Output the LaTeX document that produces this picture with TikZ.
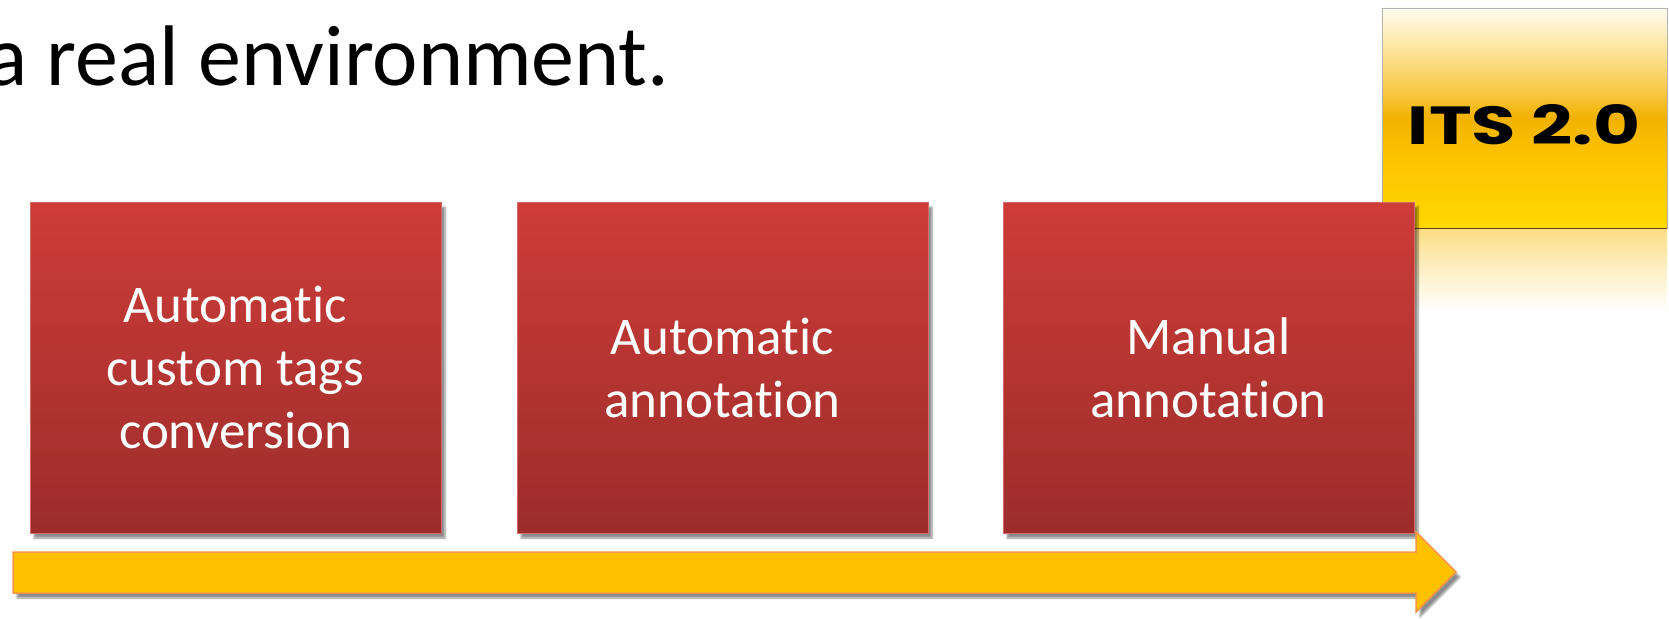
\documentclass[tikz,border=0pt]{standalone}
\usepackage{fontspec}
\setmainfont{Carlito}[RawFeature=-liga]
\newfontfamily\logofont{Poppins}
\usetikzlibrary{shadows,shadows.blur}

\definecolor{boxtop}{HTML}{CE3C38}
\definecolor{boxbot}{HTML}{9C2D2B}
\definecolor{boxrim}{HTML}{D46A66}
\definecolor{arrowfill}{HTML}{FFC000}
\definecolor{arrowrim}{HTML}{F79646}
\definecolor{logoa}{HTML}{FFD800}
\definecolor{logob}{HTML}{FCC200}
\definecolor{logoc}{HTML}{F2B200}
\definecolor{logod}{HTML}{F8C846}
\definecolor{logoe}{HTML}{FEE9A8}
\definecolor{logof}{HTML}{FFFCF0}
\definecolor{glow}{HTML}{FCDD82}

\pgfdeclareverticalshading{itsshade}{100bp}{color(0bp)=(logoa); color(25bp)=(logoa); color(42bp)=(logob); color(50bp)=(logoc); color(56bp)=(logod); color(67bp)=(logoe); color(75bp)=(logof); color(100bp)=(logof)}

\tikzset{
  stagebox/.style={rectangle, top color=boxtop, bottom color=boxbot, draw=boxrim, line width=0.8pt,
    minimum width=411pt, minimum height=331pt, inner sep=0pt, align=center, text=white,
    font=\fontsize{53}{63}\selectfont,
    blur shadow={shadow xshift=4pt, shadow yshift=-5pt, shadow blur steps=6, shadow opacity=45}},
  flowarrow/.style={fill=arrowfill, draw=arrowrim, line width=1.5pt,
    blur shadow={shadow xshift=4pt, shadow yshift=-5pt, shadow blur steps=6, shadow opacity=45}}
}

\begin{document}
\begin{tikzpicture}[x=1pt,y=-1pt]
\useasboundingbox (0,0) rectangle (1669,618);

% title
  \node[anchor=base west, inner sep=0pt, font=\fontsize{86}{100}\selectfont] (title) at (-14,85) {a real environment.};

% logo
  \shade[top color=glow, bottom color=white, middle color=glow!45] (1382,228) rectangle (1667,312);
  \path[shading=itsshade, draw=gray!60, line width=0.8pt] (1382,8) rectangle (1667,228);
  \draw[black!50!brown, line width=1pt] (1382,228) -- (1667,228);
  \node[inner sep=0pt] (logo) at (1524,125) {\resizebox{232pt}{40pt}{\logofont\bfseries ITS 2.0}};

% stages
  \node[stagebox] (autoconv) at (235.5,367.5) {Automatic\\custom tags\\conversion};
  \node[stagebox] (autoanno) at (722.5,367.5) {Automatic\\annotation};
  \node[stagebox] (manuanno) at (1208.5,367.5) {Manual\\annotation};

% arrow
  \draw[flowarrow] (13,552) -- (1416,552) -- (1416,532) -- (1456,572) -- (1416,612) -- (1416,593) -- (13,593) -- cycle;

\end{tikzpicture}
\end{document}
